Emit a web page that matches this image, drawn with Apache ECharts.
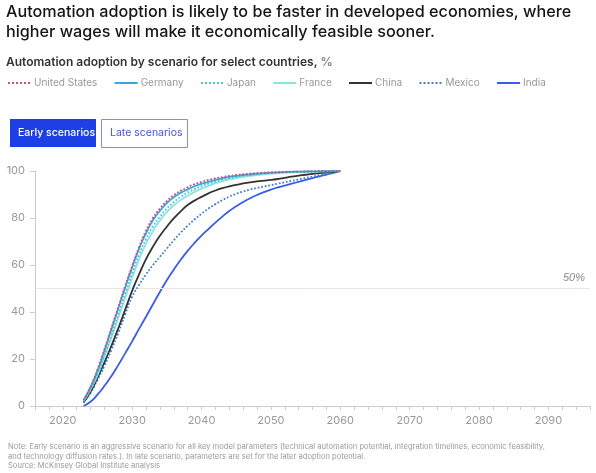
<!DOCTYPE html>
<html><head><meta charset="utf-8">
<script src="https://cdn.jsdelivr.net/npm/echarts@6/dist/echarts.min.js"></script>
<style>html,body{margin:0;padding:0;background:#fff}#c{width:596px;height:473px}</style>
</head><body><div id="c"></div>
<script>
const years = [2023,2024,2025,2026,2027,2028,2029,2030,2031,2032,2033,2034,2035,2036,2037,2038,2039,2040,2041,2042,2043,2044,2045,2046,2047,2048,2049,2050,2051,2052,2053,2054,2055,2056,2057,2058,2059,2060];
const unitedStates = [2.5,8,15.5,24,33,42,51,59.5,67.5,74.5,80,84,87.2,89.7,91.6,93.1,94.4,95.4,96.2,96.9,97.4,97.9,98.3,98.6,98.9,99.1,99.3,99.45,99.55,99.65,99.7,99.75,99.8,99.85,99.9,99.93,99.96,100];
const germany      = [2.5,8,15,23.5,32.5,41.5,50.5,59,67,73.5,79,83,86.3,88.8,90.7,92.2,93.5,94.5,95.4,96.2,96.9,97.5,97.9,98.3,98.6,98.9,99.1,99.3,99.45,99.55,99.65,99.72,99.78,99.83,99.88,99.92,99.96,100];
const japan        = [2,7,13.5,21.5,30,39,48,56.5,64.5,71,76.5,80.5,84,86.7,89,90.8,92.3,93.5,94.6,95.5,96.3,97,97.5,98,98.3,98.6,98.9,99.1,99.25,99.4,99.5,99.6,99.68,99.75,99.82,99.88,99.94,100];
const france       = [2,7,13,21,29,37.5,46,54.5,62.5,69,74.5,79,82.5,85.3,87.6,89.5,91.1,92.5,93.7,94.8,95.7,96.4,97,97.5,97.9,98.3,98.6,98.9,99.1,99.3,99.45,99.55,99.65,99.72,99.8,99.87,99.93,100];
const china        = [1.5,6,12,18.5,25.5,33,41,49,56,62.5,67.8,72.4,76.3,79.8,82.8,85.5,87.4,89,90.5,91.7,92.7,93.5,94.1,94.7,95.2,95.6,95.9,96.2,96.6,97.1,97.6,98,98.4,98.8,99.1,99.4,99.7,100];
const mexico       = [1.5,5.5,11,17,23.8,31,39,46.5,51.5,56,60,63.5,67,70.5,73.7,76.7,79.4,81.8,84,85.9,87.6,89.1,90.3,91.3,92.1,92.8,93.4,94,94.6,95.2,95.8,96.4,97,97.6,98.2,98.8,99.4,100];
const india        = [0,1.8,4.8,8.5,12.7,17.4,22.4,27.5,32.8,38,43.3,48.5,53.5,58,62.2,66,69.4,72.5,75.3,78,80.6,83,85,86.8,88.4,89.8,91,92.1,93,93.8,94.6,95.4,96.2,97,97.7,98.5,99.2,100];
const xTicks = [2020,2030,2040,2050,2060,2070,2080,2090];
const yTicks = [0,20,40,60,80,100];

const seriesDefs = [
  ['United States', unitedStates, '#c2557f', 'dotted'],
  ['Germany', germany, '#3aa6dc', 'solid'],
  ['Japan', japan, '#4cc3d6', 'dotted'],
  ['France', france, '#8fe3de', 'solid'],
  ['China', china, '#333333', 'solid'],
  ['Mexico', mexico, '#3f7fd0', 'dotted'],
  ['India', india, '#3b5ce8', 'solid']
];

const chart = echarts.init(document.getElementById('c'), null, {renderer:'canvas'});
const series = seriesDefs.map(function(d, i){
  return {
    name: d[0], type: 'line', smooth: true, symbol: 'none', z: 10 - i,
    data: years.map(function(y, k){ return [y, d[1][k]]; }),
    lineStyle: {color: d[2], width: 1.8, type: d[3]},
    itemStyle: {color: d[2]}
  };
});
series.push({
  name: 'ref', type: 'line', data: [], silent: true,
  markLine: {
    symbol: 'none', silent: true,
    lineStyle: {color: '#ebe7dc', width: 1, type: 'solid'},
    label: {position: 'insideEndTop', formatter: '50%', color: '#888', fontStyle: 'italic', fontSize: 11, fontFamily: 'Liberation Sans'},
    data: [{yAxis: 50}]
  }
});

chart.setOption({
  animation: false,
  textStyle: {fontFamily: 'Inter'},
  title: [
    {text: 'Automation adoption is likely to be faster in developed economies, where\nhigher wages will make it economically feasible sooner.', left: 6, top: 2, padding: 0,
     textStyle: {fontSize: 16.2, fontWeight: 500, color: '#151515', lineHeight: 20, fontFamily: 'Inter'}},
    {text: '{b|Automation adoption by scenario for select countries, }{g|%}', left: 6, top: 56, padding: 0,
     textStyle: {rich: {b: {fontSize: 12, fontWeight: 600, color: '#333', fontFamily: 'Inter'}, g: {fontSize: 12, color: '#888', fontFamily: 'Inter'}}}}
  ],
  legend: {
    left: 7, top: 78, padding: 0, itemWidth: 23, itemHeight: 10, itemGap: 16.3,
    data: seriesDefs.map(function(d){ return d[0]; }),
    itemStyle: {opacity: 0},
    textStyle: {color: '#999', fontSize: 10, fontFamily: 'Inter', padding: [0,0,0,-2]}
  },
  grid: {left: 35, right: 6, top: 171, bottom: 67},
  xAxis: {
    type: 'value', min: 2016, max: 2096, interval: 2,
    axisLine: {lineStyle: {color: '#ccc'}},
    axisTick: {length: 4, lineStyle: {color: '#ccc'}},
    splitLine: {show: false},
    axisLabel: {color: '#999', fontSize: 11, margin: 9, fontFamily: 'Inter',
      formatter: function(v){ return xTicks.indexOf(v) >= 0 ? String(v) : ''; }}
  },
  yAxis: {
    type: 'value', min: 0, max: 100, interval: 20,
    axisLine: {show: true, lineStyle: {color: '#ccc'}},
    axisTick: {show: true, length: 5, lineStyle: {color: '#ccc'}},
    splitLine: {show: false},
    axisLabel: {color: '#999', fontSize: 11, margin: 10, fontFamily: 'Inter',
      formatter: function(v){ return yTicks.indexOf(v) >= 0 ? String(v) : ''; }}
  },
  series: series,
  graphic: [
    {type: 'rect', left: 10, top: 119, shape: {width: 86, height: 28}, style: {fill: '#1f3fe6'}},
    {type: 'text', left: 18, top: 127, style: {text: 'Early scenarios', fill: '#fff', font: '500 10.5px Inter'}},
    {type: 'rect', left: 101, top: 119, shape: {width: 86, height: 28}, style: {fill: '#fff', stroke: '#7d8ee8', lineWidth: 1}},
    {type: 'text', left: 110, top: 127, style: {text: 'Late scenarios', fill: '#4057d8', font: '10.5px Inter'}},
    {type: 'text', left: 8, top: 442, style: {text: 'Note: Early scenario is an aggressive scenario for all key model parameters (technical automation potential, integration timelines, economic feasibility,\nand technology diffusion rates.). In late scenario, parameters are set for the later adoption potential.\nSource: McKinsey Global Institute analysis', fill: '#9a9a9a', font: '7.6px Inter', lineHeight: 9.5}}
  ]
});
</script></body></html>
